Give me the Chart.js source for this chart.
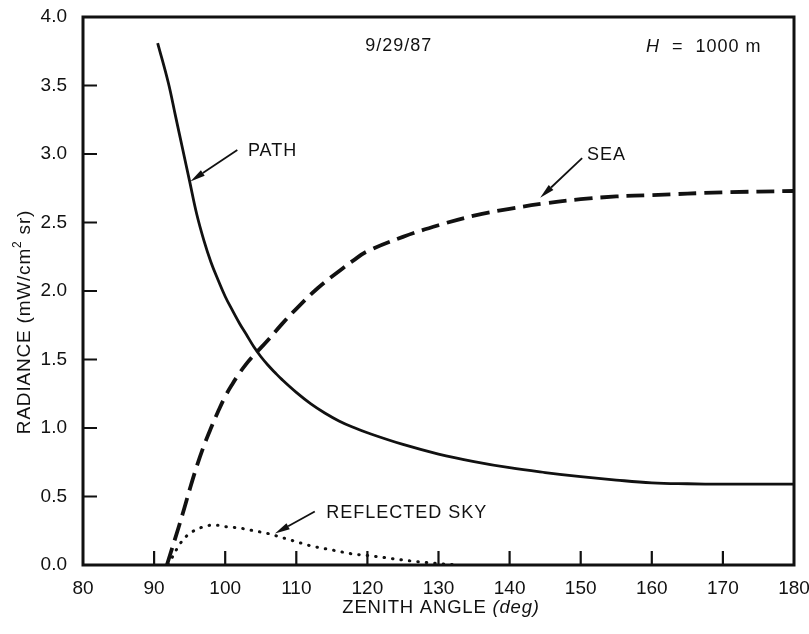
<!DOCTYPE html>
<html>
<head>
<meta charset="utf-8">
<script src="https://cdn.jsdelivr.net/npm/chart.js@4/dist/chart.umd.min.js"></script>
<style>
  html, body { margin: 0; padding: 0; background: #fff; }
  canvas { display: block; }
</style>
</head>
<body>
<canvas id="chart" width="809" height="634"></canvas>
<script>
// zenith angle (deg) / radiance (mW/cm2 sr)
const pathAngles = [90.5, 92, 93, 94, 95, 96, 97, 98, 99, 100, 101, 102, 103, 104, 105, 106, 107, 108, 110, 112, 114, 116, 118, 120, 125, 130, 135, 140, 145, 150, 155, 160, 165, 170, 180]
const pathValues = [3.81, 3.52, 3.28, 3.04, 2.80, 2.56, 2.37, 2.21, 2.08, 1.96, 1.86, 1.765, 1.68, 1.595, 1.522, 1.46, 1.405, 1.353, 1.26, 1.178, 1.11, 1.052, 1.005, 0.965, 0.88, 0.81, 0.755, 0.71, 0.675, 0.645, 0.62, 0.60, 0.593, 0.59, 0.59]

const seaAngles = [91.8, 93, 94, 95, 96, 97, 98, 99, 100, 101, 102, 103, 104, 105, 106, 108, 110, 113, 116, 118, 120, 125, 130, 135, 140, 145, 150, 155, 160, 170, 180]
const seaValues = [0.00, 0.20, 0.37, 0.55, 0.72, 0.87, 1.00, 1.12, 1.23, 1.32, 1.40, 1.47, 1.53, 1.585, 1.64, 1.76, 1.87, 2.02, 2.145, 2.222, 2.29, 2.395, 2.48, 2.55, 2.60, 2.64, 2.67, 2.69, 2.70, 2.72, 2.73]

const skyAngles = [92, 93, 94, 95, 96, 97, 98, 99, 100, 102, 104, 106, 108, 110, 112, 115, 118, 120, 123, 126, 130, 133]
const skyValues = [0.00, 0.10, 0.18, 0.23, 0.26, 0.28, 0.29, 0.29, 0.28, 0.27, 0.25, 0.23, 0.20, 0.17, 0.14, 0.11, 0.08, 0.07, 0.05, 0.03, 0.01, 0.00]

const xTickMarks = [90, 100, 110, 120, 130, 140, 150, 160, 170]
const yTickMarks = [0.5, 1.0, 1.5, 2.0, 2.5, 3.0, 3.5]

// curve labels: text anchor and arrow tail/head in data units
const labels = [
  { text: 'PATH', at: [103.2, 3.02], tail: [101.7, 3.03], head: [95.1, 2.80] },
  { text: 'SEA', at: [150.9, 2.99], tail: [150.2, 2.97], head: [144.3, 2.68] },
  { text: 'REFLECTED SKY', at: [114.2, 0.38], tail: [112.6, 0.39], head: [107.0, 0.23] }
]

const INK = '#111'
const FONT = '"Liberation Sans", Arial, Helvetica, sans-serif'

function toPoints(xs, ys) {
  return xs.map((x, i) => ({ x: x, y: ys[i] }))
}

function drawRich(ctx, parts, x, y) {
  // parts: [{text, font, dy}] drawn centred on x
  let total = 0
  parts.forEach(p => { ctx.font = p.font; total += ctx.measureText(p.text).width })
  let cx = x - total / 2
  parts.forEach(p => {
    ctx.font = p.font
    ctx.fillText(p.text, cx, y + (p.dy || 0))
    cx += ctx.measureText(p.text).width
  })
}

function arrow(ctx, x1, y1, x2, y2) {
  const a = Math.atan2(y2 - y1, x2 - x1)
  const len = 15, half = 3.4
  const bx = x2 - len * Math.cos(a), by = y2 - len * Math.sin(a)
  ctx.beginPath()
  ctx.moveTo(x1, y1)
  ctx.lineTo(bx, by)
  ctx.lineWidth = 1.8
  ctx.stroke()
  ctx.beginPath()
  ctx.moveTo(x2, y2)
  ctx.lineTo(bx + half * Math.sin(a), by - half * Math.cos(a))
  ctx.lineTo(bx - half * Math.sin(a), by + half * Math.cos(a))
  ctx.closePath()
  ctx.fill()
}

const framePlugin = {
  id: 'frame',
  afterDraw(chart) {
    const ctx = chart.ctx
    const a = chart.chartArea
    const xs = chart.scales.x, ys = chart.scales.y
    ctx.save()
    ctx.strokeStyle = INK
    ctx.fillStyle = INK
    ctx.lineWidth = 3
    ctx.strokeRect(a.left, a.top, a.right - a.left, a.bottom - a.top)

    // inward tick marks
    ctx.lineWidth = 2.2
    ctx.beginPath()
    yTickMarks.forEach(v => {
      const py = ys.getPixelForValue(v)
      ctx.moveTo(a.left, py)
      ctx.lineTo(a.left + 14, py)
    })
    xTickMarks.forEach(v => {
      const px = xs.getPixelForValue(v)
      ctx.moveTo(px, a.bottom)
      ctx.lineTo(px, a.bottom - 14)
    })
    ctx.stroke()

    // curve labels with arrows
    ctx.font = '18px ' + FONT
    ctx.textBaseline = 'middle'
    ctx.textAlign = 'left'
    if ('letterSpacing' in ctx) ctx.letterSpacing = '1px'
    labels.forEach(l => {
      ctx.fillText(l.text, xs.getPixelForValue(l.at[0]), ys.getPixelForValue(l.at[1]))
      arrow(ctx,
        xs.getPixelForValue(l.tail[0]), ys.getPixelForValue(l.tail[1]),
        xs.getPixelForValue(l.head[0]), ys.getPixelForValue(l.head[1]))
    })

    // date and altitude notes
    ctx.textAlign = 'center'
    ctx.fillText('9/29/87', xs.getPixelForValue(124.4), ys.getPixelForValue(3.79))
    ctx.textAlign = 'left'
    drawRich(ctx, [
      { text: 'H', font: 'italic 18px ' + FONT },
      { text: '  =  1000 m', font: '18px ' + FONT }
    ], xs.getPixelForValue(167.3), ys.getPixelForValue(3.78))

    // axis titles
    if ('letterSpacing' in ctx) ctx.letterSpacing = '0.8px'
    drawRich(ctx, [
      { text: 'ZENITH ANGLE ', font: '18.5px ' + FONT },
      { text: '(deg)', font: 'italic 18.5px ' + FONT }
    ], 441, 608)

    ctx.translate(25, 322)
    ctx.rotate(-Math.PI / 2)
    drawRich(ctx, [
      { text: 'RADIANCE (mW/cm', font: '19px ' + FONT },
      { text: '2', font: '12px ' + FONT, dy: -7 },
      { text: ' sr)', font: '19px ' + FONT }
    ], 0, 0)
    ctx.restore()
  }
}

// keep the plot frame where the figure has it: no extra room for edge labels
function noEdgePadding(scale) {
  scale.paddingTop = 0
  scale.paddingBottom = 0
  scale.paddingLeft = 0
  scale.paddingRight = 0
}

new Chart(document.getElementById('chart'), {
  type: 'line',
  data: {
    datasets: [
      {
        label: 'PATH',
        data: toPoints(pathAngles, pathValues),
        borderColor: INK,
        borderWidth: 2.8,
        tension: 0.4
      },
      {
        label: 'SEA',
        data: toPoints(seaAngles, seaValues),
        borderColor: INK,
        borderWidth: 3.8,
        borderDash: [18, 8],
        tension: 0.4
      },
      {
        label: 'REFLECTED SKY',
        data: toPoints(skyAngles, skyValues),
        borderColor: INK,
        borderWidth: 3,
        borderDash: [0.5, 8],
        borderCapStyle: 'round',
        cubicInterpolationMode: 'monotone'
      }
    ]
  },
  options: {
    responsive: false,
    animation: false,
    elements: { point: { radius: 0 } },
    layout: { padding: { left: 0, right: 15, top: 17, bottom: 0 } },
    plugins: {
      legend: { display: false },
      tooltip: { enabled: false }
    },
    scales: {
      x: {
        type: 'linear',
        min: 80,
        max: 180,
        grid: { display: false, drawTicks: false },
        border: { display: false },
        ticks: {
          stepSize: 10,
          padding: 12,
          color: INK,
          font: { family: FONT, size: 19 }
        },
        afterFit: (scale) => { scale.height = 69; noEdgePadding(scale) }
      },
      y: {
        min: 0,
        max: 4,
        grid: { display: false, drawTicks: false },
        border: { display: false },
        ticks: {
          stepSize: 0.5,
          padding: 16,
          color: INK,
          font: { family: FONT, size: 19 },
          callback: (v) => v.toFixed(1)
        },
        afterFit: (scale) => { scale.width = 83; noEdgePadding(scale) }
      }
    }
  },
  plugins: [framePlugin]
})
</script>
</body>
</html>
